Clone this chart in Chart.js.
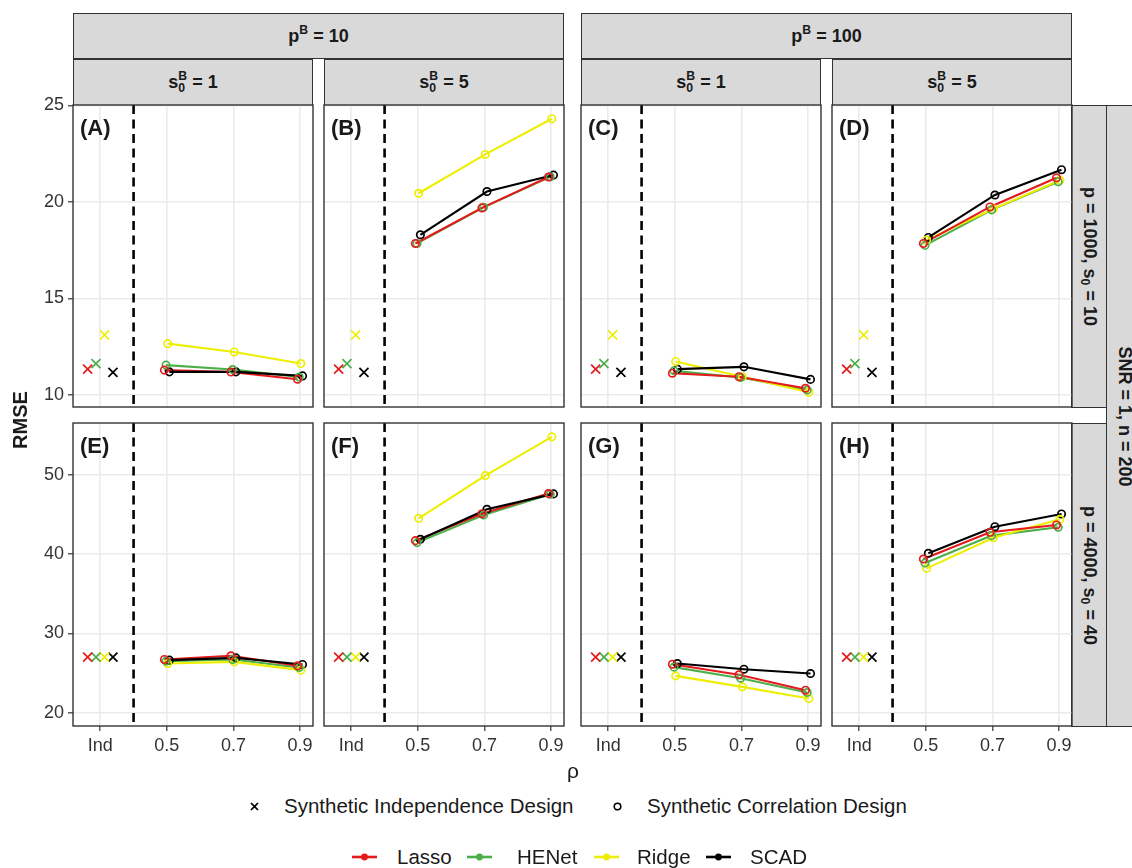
<!DOCTYPE html>
<html>
<head>
<meta charset="utf-8">
<script src="https://cdn.jsdelivr.net/npm/chart.js@4/dist/chart.umd.min.js"></script>
<style>
  body { margin: 0; background: #fff; }
  #fig { position: relative; width: 1132px; height: 868px; overflow: hidden; background: #fff;
         font-family: "Liberation Sans", Arial, Helvetica, sans-serif; color: #1a1a1a; }
  canvas { position: absolute; }
  .strip { position: absolute; box-sizing: border-box; background: #D9D9D9; border: 1.3px solid #333;
           display: flex; align-items: center; justify-content: center;
           font-weight: bold; font-size: 18px; color: #1a1a1a; overflow: visible; }
  .rot { flex: none; white-space: nowrap; transform: rotate(90deg); }
  .m sup.hi { font-size: 0.68em; vertical-align: 0.62em; line-height: 0; }
  .ss { display: inline-block; vertical-align: -0.32em; font-size: 0.68em; line-height: 0.95; text-align: left; }
  .ss span { display: block; }
  .rot sub { font-size: 0.68em; vertical-align: -0.25em; line-height: 0; }
  .txt { position: absolute; white-space: nowrap; }
  .leg { position: absolute; white-space: nowrap; font-size: 20.5px; line-height: 24px; color: #1a1a1a; }
  svg.key { position: absolute; overflow: visible; }
</style>
</head>
<body>
<div id="fig"></div>
<script>
// ---- values ----
const panelLetters = ['A', 'B', 'C', 'D', 'E', 'F', 'G', 'H'];
const methodNames = ['Lasso', 'HENet', 'Ridge', 'SCAD'];
const rhoValues = [0.5, 0.7, 0.9];
const indPosition = 0.3;
const xTickValues = [0.3, 0.5, 0.7, 0.9];
const xTickLabels = ['Ind', '0.5', '0.7', '0.9'];
const yTicksTop = [10, 15, 20, 25];
const yTicksBottom = [20, 30, 40, 50];
const colStrips = ['p<sup class="hi">B</sup> = 10', 'p<sup class="hi">B</sup> = 100'];
const subStrips = ['1', '5', '1', '5'];
const rowStrips = ['p = 1000, s<sub>0</sub> = 10', 'p = 4000, s<sub>0</sub> = 40'];
const outerStrip = 'SNR = 1, n = 200';

// RMSE under the synthetic correlation design, rho = 0.5, 0.7, 0.9, panels A..H
const lassoCorr = [
  [11.29, 11.19, 10.82], [17.85, 19.69, 21.29], [11.13, 10.95, 10.35], [17.85, 19.74, 21.25],
  [26.70, 27.16, 25.90], [41.70, 45.10, 47.64], [26.10, 24.76, 22.82], [39.38, 42.75, 43.68]
];
const henetCorr = [
  [11.55, 11.32, 10.93], [17.85, 19.72, 21.30], [11.25, 10.91, 10.26], [17.75, 19.59, 21.05],
  [26.49, 26.70, 25.69], [41.45, 44.94, 47.55], [25.73, 24.33, 22.53], [38.87, 42.33, 43.39]
];
const ridgeCorr = [
  [12.66, 12.23, 11.63], [20.45, 22.46, 24.31], [11.74, 10.95, 10.14], [18.03, 19.64, 21.12],
  [26.19, 26.40, 25.35], [44.52, 49.91, 54.80], [24.63, 23.24, 21.77], [38.20, 42.07, 44.40]
];
const scadCorr = [
  [11.20, 11.20, 10.99], [18.30, 20.54, 21.39], [11.34, 11.46, 10.81], [18.16, 20.36, 21.67],
  [26.61, 26.90, 26.07], [41.87, 45.66, 47.60], [26.19, 25.47, 24.93], [40.10, 43.46, 45.07]
];
// RMSE under the synthetic independence design, panels A..H
const lassoInd = [11.34, 11.34, 11.34, 11.34, 27.0, 27.0, 27.0, 27.0];
const henetInd = [11.63, 11.63, 11.63, 11.63, 27.0, 27.0, 27.0, 27.0];
const ridgeInd = [13.11, 13.11, 13.11, 13.11, 27.0, 27.0, 27.0, 27.0];
const scadInd  = [11.17, 11.17, 11.17, 11.17, 27.0, 27.0, 27.0, 27.0];

// ---- styling / layout ----
const colors = ['#E41A1C', '#4DAF4A', '#EEEE00', '#000000'];
const corrSets = [lassoCorr, henetCorr, ridgeCorr, scadCorr];
const indSets = [lassoInd, henetInd, ridgeInd, scadInd];
const circleDodge = [-0.0075, -0.0025, 0.0025, 0.0075];
const crossDodge = [-0.038, -0.013, 0.013, 0.038];
const lineOrder = [11, 13, 12, 10];
const pointOrder = [4, 5, 6, 7];
const dividerX = 0.4;
const xMin = 0.218, xMax = 0.939;
const rowRanges = [{ min: 9.38, max: 25.02, ticks: yTicksTop }, { min: 18.3, max: 56.55, ticks: yTicksBottom }];

const panelLeft = [73, 324, 581, 832];
const panelWidth = 240;
const panelTop = [105, 423];
const panelHeight = [302, 303];
const pad = 14;
const xAxisH = 45;
const tickFont = { family: '"Liberation Sans", Arial, sans-serif', size: 18 };
const tickColor = '#333333';

const fig = document.getElementById('fig');

const facetDecor = {
  id: 'facetDecor',
  beforeDatasetsDraw(chart, args, opts) {
    const { ctx, chartArea } = chart;
    const x = chart.scales.x.getPixelForValue(dividerX);
    ctx.save();
    ctx.beginPath();
    ctx.rect(chartArea.left, chartArea.top, chartArea.right - chartArea.left, chartArea.bottom - chartArea.top);
    ctx.clip();
    ctx.strokeStyle = '#000';
    ctx.lineWidth = 2.6;
    ctx.setLineDash([9, 5.5]);
    ctx.beginPath();
    ctx.moveTo(x, chartArea.top);
    ctx.lineTo(x, chartArea.bottom);
    ctx.stroke();
    ctx.restore();
  },
  afterDraw(chart, args, opts) {
    const { ctx, chartArea } = chart;
    ctx.save();
    ctx.strokeStyle = '#333333';
    ctx.lineWidth = 1.4;
    ctx.strokeRect(chartArea.left, chartArea.top, chartArea.right - chartArea.left, chartArea.bottom - chartArea.top);
    ctx.fillStyle = '#1a1a1a';
    ctx.font = 'bold 22px "Liberation Sans", Arial, sans-serif';
    ctx.textBaseline = 'alphabetic';
    ctx.fillText('(' + opts.letter + ')', chartArea.left + 7, chartArea.top + 30);
    ctx.restore();
  }
};

function buildPanel(r, c) {
  const p = r * 4 + c;
  const range = rowRanges[r];
  const left = c === 0 ? 0 : panelLeft[c] - pad;
  const top = panelTop[r] - pad;
  const padL = c === 0 ? 0 : pad;
  const yW = c === 0 ? panelLeft[0] : 0;
  const xH = r === 1 ? xAxisH : 0;
  const padB = r === 1 ? 0 : pad;
  const w = padL + yW + panelWidth + pad;
  const h = pad + panelHeight[r] + xH + padB;

  const cv = document.createElement('canvas');
  cv.width = w; cv.height = h;
  cv.style.left = left + 'px'; cv.style.top = top + 'px';
  cv.style.width = w + 'px'; cv.style.height = h + 'px';
  fig.appendChild(cv);

  const datasets = [];
  for (let k = 0; k < 4; k++) {
    const pts = rhoValues.map((rho, i) => ({ x: rho + circleDodge[k], y: corrSets[k][p][i] }));
    datasets.push({
      type: 'line', label: methodNames[k], data: pts, borderColor: colors[k], borderWidth: 2.1,
      pointRadius: 0, fill: false, tension: 0, order: lineOrder[k]
    });
    datasets.push({
      type: 'scatter', label: methodNames[k] + ' corr', data: pts, showLine: false,
      pointStyle: 'circle', pointRadius: 3.7, pointBorderWidth: 1.7,
      pointBackgroundColor: 'rgba(0,0,0,0)', borderColor: colors[k], backgroundColor: 'rgba(0,0,0,0)',
      order: pointOrder[k]
    });
    datasets.push({
      type: 'scatter', label: methodNames[k] + ' ind',
      data: [{ x: indPosition + crossDodge[k], y: indSets[k][p] }], showLine: false,
      pointStyle: 'crossRot', pointRadius: 6.4, pointBorderWidth: 1.7,
      borderColor: colors[k], backgroundColor: colors[k], order: k
    });
  }

  new Chart(cv, {
    data: { datasets },
    options: {
      responsive: false, animation: false, devicePixelRatio: 1, events: [],
      layout: { padding: { left: padL, right: pad, top: pad, bottom: padB } },
      plugins: { legend: { display: false }, tooltip: { enabled: false }, facetDecor: { letter: panelLetters[p] } },
      scales: {
        x: {
          type: 'linear', min: xMin, max: xMax,
          afterBuildTicks: s => { s.ticks = xTickValues.map(v => ({ value: v })); },
          afterFit: s => { s.height = xH; s.paddingLeft = 0; s.paddingRight = 0; },
          ticks: {
            display: r === 1, autoSkip: false, maxRotation: 0, padding: 4,
            font: tickFont, color: tickColor,
            callback: (v, i) => xTickLabels[i]
          },
          grid: { color: '#EBEBEB', lineWidth: 1.6, drawTicks: r === 1, tickLength: 5, tickColor: '#333', tickWidth: 1.2 },
          border: { display: false }
        },
        y: {
          type: 'linear', min: range.min, max: range.max,
          afterBuildTicks: s => { s.ticks = range.ticks.map(v => ({ value: v })); },
          afterFit: s => { s.width = yW; s.paddingTop = 0; s.paddingBottom = 0; },
          ticks: { display: c === 0, padding: 4, font: tickFont, color: tickColor },
          grid: { color: '#EBEBEB', lineWidth: 1.6, drawTicks: c === 0, tickLength: 5, tickColor: '#333', tickWidth: 1.2 },
          border: { display: false }
        }
      }
    },
    plugins: [facetDecor]
  });
}

function addDiv(cls, style, html) {
  const d = document.createElement('div');
  d.className = cls;
  Object.assign(d.style, style);
  d.innerHTML = html;
  fig.appendChild(d);
  return d;
}

// strips
for (let g = 0; g < 2; g++) {
  const l = panelLeft[g * 2], rgt = panelLeft[g * 2 + 1] + panelWidth;
  addDiv('strip', { left: l + 'px', top: '13px', width: (rgt - l) + 'px', height: '46px' },
    '<span class="m">' + colStrips[g] + '</span>');
}
for (let c = 0; c < 4; c++) {
  addDiv('strip', { left: panelLeft[c] + 'px', top: '59px', width: panelWidth + 'px', height: '47px' },
    '<span class="m">s<span class="ss"><span>B</span><span>0</span></span> = ' + subStrips[c] + '</span>');
}
for (let r = 0; r < 2; r++) {
  addDiv('strip', { left: (panelLeft[3] + panelWidth - 1) + 'px', top: panelTop[r] + 'px', width: '36px', height: (panelHeight[r] + 1) + 'px' },
    '<span class="rot">' + rowStrips[r] + '</span>');
}
addDiv('strip', { left: '1106px', top: panelTop[0] + 'px', width: '36px', height: (panelTop[1] + panelHeight[1] - panelTop[0] + 1) + 'px' },
  '<span class="rot">' + outerStrip + '</span>');

// panels
for (let r = 0; r < 2; r++) for (let c = 0; c < 4; c++) buildPanel(r, c);

// axis titles
addDiv('txt', { left: '-12px', top: '408px', width: '64px', textAlign: 'center', fontWeight: 'bold', fontSize: '20px',
  lineHeight: '24px', transform: 'rotate(-90deg)' }, 'RMSE');
addDiv('txt', { left: '563px', top: '758px', width: '20px', textAlign: 'center', fontSize: '21px', lineHeight: '26px' }, 'ρ');

// design legend
function key(svgInner, x, y, w, h) {
  const ns = 'http://www.w3.org/2000/svg';
  const s = document.createElementNS(ns, 'svg');
  s.setAttribute('class', 'key');
  s.setAttribute('width', w); s.setAttribute('height', h);
  s.style.left = x + 'px'; s.style.top = y + 'px';
  s.innerHTML = svgInner;
  fig.appendChild(s);
}
key('<path d="M1,1 L8,8 M8,1 L1,8" stroke="#000" stroke-width="1.7" fill="none"/>', 250, 802, 9, 9);
addDiv('leg', { left: '284px', top: '794px' }, 'Synthetic Independence Design');
key('<circle cx="4.5" cy="4.5" r="3.3" stroke="#000" stroke-width="1.6" fill="none"/>', 613, 802, 9, 9);
addDiv('leg', { left: '647px', top: '794px' }, 'Synthetic Correlation Design');

// method legend
const keyX = [352, 467, 594, 706];
const labX = [397, 517, 637, 750];
for (let k = 0; k < 4; k++) {
  key('<line x1="0" y1="5" x2="25" y2="5" stroke="' + colors[k] + '" stroke-width="2.6"/>' +
      '<circle cx="12.5" cy="5" r="3.4" fill="' + colors[k] + '"/>', keyX[k], 852, 25, 10);
  addDiv('leg', { left: labX[k] + 'px', top: '845px' }, methodNames[k]);
}
</script>
</body>
</html>
